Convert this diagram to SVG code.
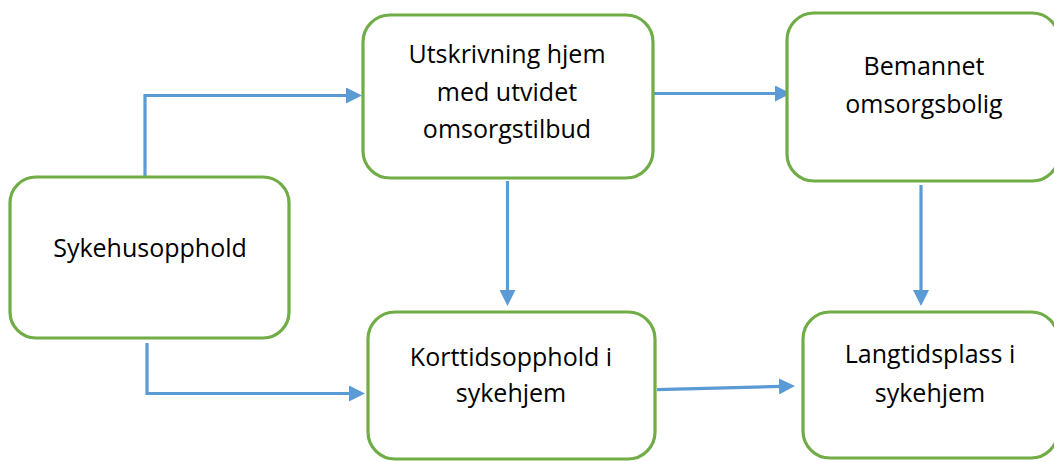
<svg xmlns="http://www.w3.org/2000/svg" width="1054" height="462" viewBox="0 0 1054 462">
  <style>
    .box { fill: #ffffff; stroke: #70AD47; stroke-width: 3.2; }
    .lbl { font-family: "Open Sans", "Liberation Sans", sans-serif; font-size: 25px; fill: #000000; text-anchor: middle; }
    .conn { fill: none; stroke: #5B9BD5; stroke-width: 3.2; }
  </style>
  <defs>
    <marker id="arrow" markerUnits="userSpaceOnUse" markerWidth="16" markerHeight="16" refX="1" refY="8" orient="auto">
      <path d="M0,0 L16,8 L0,16 z" fill="#5B9BD5"/>
    </marker>
  </defs>
  <rect width="1054" height="462" fill="#ffffff"/>

  <g id="connectors">
    <path class="conn" d="M145,177 V95.5 H347" marker-end="url(#arrow)"/>
    <path class="conn" d="M147,343 V393.5 H350" marker-end="url(#arrow)"/>
    <path class="conn" d="M507.5,181 V291" marker-end="url(#arrow)"/>
    <path class="conn" d="M653,93.5 H776" marker-end="url(#arrow)"/>
    <path class="conn" d="M921,185 V291" marker-end="url(#arrow)"/>
    <path class="conn" d="M657,389.7 L780,386.4" marker-end="url(#arrow)"/>
  </g>

  <g id="node-sykehusopphold">
    <rect class="box" x="10" y="177" width="279" height="161" rx="26" ry="26"/>
    <text class="lbl" x="150" y="257">Sykehusopphold</text>
  </g>

  <g id="node-utskrivning">
    <rect class="box" x="363" y="15" width="290" height="163" rx="27" ry="27"/>
    <text class="lbl" x="507" y="63">Utskrivning hjem</text>
    <text class="lbl" x="507" y="101">med utvidet</text>
    <text class="lbl" x="507" y="138">omsorgstilbud</text>
  </g>

  <g id="node-bemannet">
    <rect class="box" x="787" y="13" width="272" height="168" rx="27" ry="27"/>
    <text class="lbl" x="924" y="75">Bemannet</text>
    <text class="lbl" x="924" y="113">omsorgsbolig</text>
  </g>

  <g id="node-korttid">
    <rect class="box" x="368" y="312" width="287" height="147" rx="27" ry="27"/>
    <text class="lbl" x="511" y="366">Korttidsopphold i</text>
    <text class="lbl" x="511" y="402">sykehjem</text>
  </g>

  <g id="node-langtid">
    <rect class="box" x="803" y="312" width="255" height="146" rx="27" ry="27"/>
    <text class="lbl" x="930" y="363">Langtidsplass i</text>
    <text class="lbl" x="930" y="402">sykehjem</text>
  </g>
</svg>
